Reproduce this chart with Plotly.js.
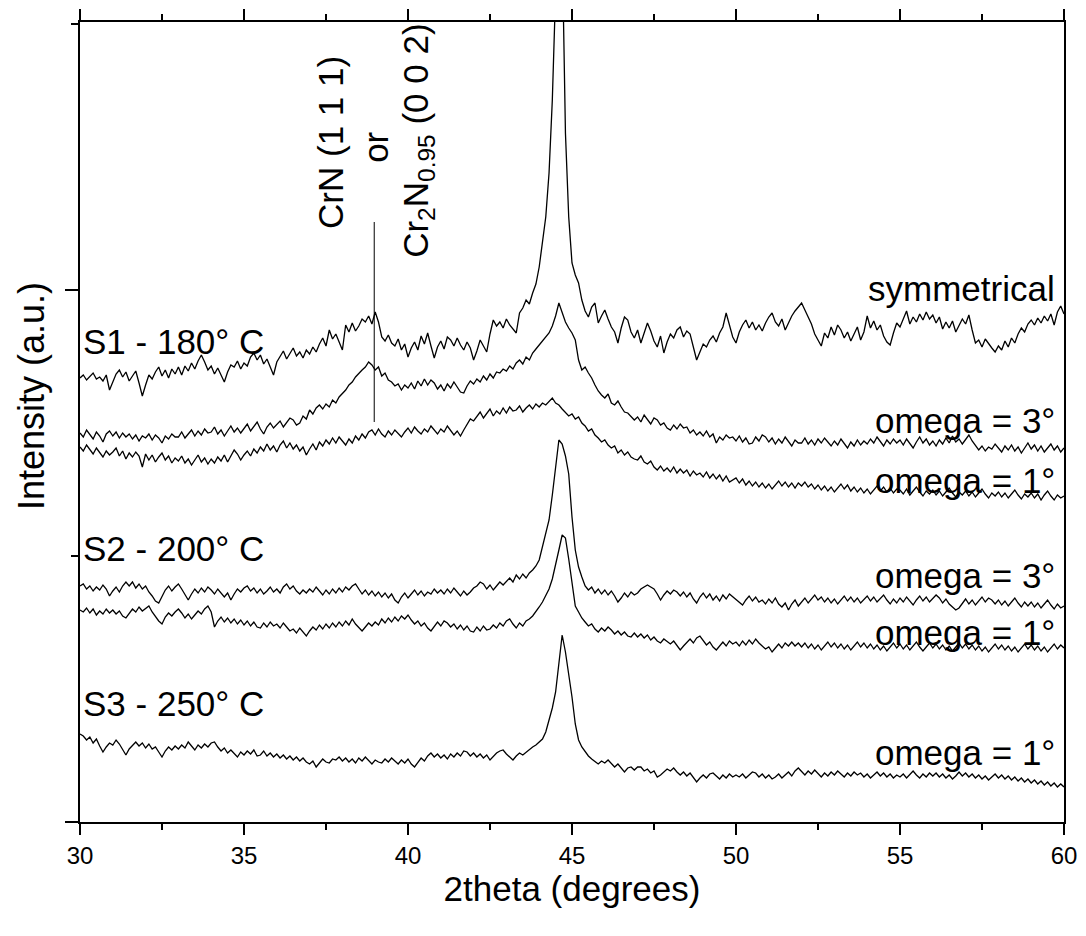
<!DOCTYPE html>
<html>
<head>
<meta charset="utf-8">
<script src="https://cdn.plot.ly/plotly-3.0.1.min.js"></script>
<style>
  html, body { margin: 0; padding: 0; background: #ffffff; }
  #chart { width: 1086px; height: 936px; }
</style>
</head>
<body>
<div id="chart"></div>
<script>
// 2theta grid: 30.0 ... 60.0 deg, 0.1 deg step (301 points)
const twoTheta = Array.from({length: 301}, (_, i) => +(30 + i * 0.1).toFixed(1));

// Offset-stacked intensities (a.u.)
const s1Symmetrical = [
444,447,442,446,449,443,445,441,447,432,
440,448,452,445,450,441,446,451,439,426,
437,447,443,450,455,446,452,444,453,448,
455,447,456,451,459,453,461,467,460,452,
456,448,454,447,440,450,457,455,461,453,
459,456,465,469,462,467,458,463,455,447,
460,466,471,463,469,474,466,470,464,472,
468,475,470,478,484,476,492,483,488,479,
472,497,490,499,491,496,503,500,506,498,
510,500,485,481,487,479,476,483,472,478,
465,474,480,472,486,478,489,476,464,475,
481,473,485,482,476,484,477,472,480,474,
462,471,482,476,470,488,502,496,500,494,
503,497,493,489,509,514,522,518,529,538,
555,579,605,649,722,830,1000,880,689,605,
559,547,539,522,511,505,515,519,499,506,
512,503,495,490,479,494,505,502,490,484,
492,479,488,499,491,481,475,486,469,480,
488,484,492,495,485,491,488,474,462,470,
478,475,482,486,480,489,495,509,498,485,
479,490,497,502,494,500,492,497,491,499,
505,509,500,496,503,492,499,506,511,515,
519,512,505,498,488,482,476,489,484,495,
487,497,492,484,490,481,488,495,482,490,
506,494,501,492,497,486,480,477,489,499,
495,504,511,498,505,500,508,502,510,503,
507,499,505,493,500,494,501,490,497,503,
498,507,492,479,482,475,483,478,474,470,
476,472,481,475,484,479,488,494,490,498,
502,497,504,499,506,501,508,497,510,516,508
];

const s1Omega3 = [
389,385,392,387,383,390,386,380,388,391,
386,390,384,389,385,388,383,387,381,386,
384,388,382,387,384,379,386,383,388,385,
385,390,384,388,392,386,391,387,393,389,
390,395,388,392,386,391,396,390,394,389,
394,398,391,396,400,393,388,395,399,394,
397,401,395,399,404,402,397,399,406,403,
412,408,414,417,413,418,415,422,419,425,
428,432,437,440,445,449,452,455,460,457,
452,455,446,449,442,440,436,438,432,437,
434,439,433,441,436,443,437,442,439,433,
437,431,438,434,440,435,430,429,436,441,
438,443,440,446,442,448,444,450,449,453,
451,456,453,459,462,458,465,462,469,473,
477,481,485,489,496,506,519,510,500,494,
489,482,462,452,455,449,444,437,431,427,
424,428,419,417,421,415,410,409,406,402,
405,400,407,403,398,404,402,397,399,394,
392,397,393,398,394,395,389,392,387,390,
386,391,385,388,379,385,382,387,384,385,
381,386,380,384,378,379,385,381,387,385,
380,384,378,383,379,385,381,376,382,379,
379,384,378,382,377,383,379,384,380,376,
381,377,383,379,374,380,376,382,377,381,
378,383,379,385,380,376,382,378,383,379,
382,377,383,378,374,380,385,379,383,377,
381,376,382,378,384,379,386,380,383,378,
382,387,381,377,372,376,371,375,373,378,
374,370,376,372,377,371,375,369,374,379,
373,377,371,376,370,374,378,372,376,370,374
];

const s1Omega1 = [
375,371,377,372,368,374,370,365,371,367,
370,374,366,371,363,369,365,370,366,355,
368,362,367,360,365,369,362,366,359,364,
361,366,359,363,357,362,367,360,364,358,
363,359,365,361,367,360,366,372,368,362,
367,371,366,373,369,375,371,378,372,376,
370,377,381,374,379,373,377,371,375,367,
373,378,372,380,376,382,378,384,379,385,
381,377,383,379,386,382,388,384,390,392,
387,393,388,385,391,387,392,389,385,390,
394,389,395,391,388,393,390,396,392,388,
393,390,396,392,387,391,386,392,398,403,
401,406,410,404,409,413,406,411,408,414,
409,415,411,412,416,410,414,417,413,418,
415,419,417,421,424,419,417,413,410,406,
408,403,405,399,396,391,393,387,384,380,
382,377,374,376,369,372,367,370,365,363,
362,366,360,358,361,355,352,356,351,354,
350,355,349,353,349,352,346,351,347,349,
345,350,344,348,343,347,341,346,340,342,
344,339,343,337,341,336,340,335,339,334,
338,333,337,341,336,340,335,339,334,339,
336,340,335,338,333,337,332,336,331,335,
330,334,338,333,337,331,335,330,334,329,
333,328,332,336,331,335,330,334,329,333,
332,328,333,327,331,335,330,326,331,328,
332,327,331,326,330,334,329,325,330,327,
331,326,330,325,329,333,328,324,329,326,
330,325,329,324,328,332,327,323,328,325,
329,324,328,322,327,331,326,322,327,324,326
];

const s2Omega3 = [
236,238,233,236,231,235,232,237,233,226,
231,235,230,236,240,236,240,234,238,233,
236,230,226,221,219,226,232,236,231,235,
238,233,228,222,228,233,229,234,230,235,
232,228,233,229,225,229,222,228,233,230,
234,236,231,234,229,233,228,231,235,230,
233,229,235,238,233,236,231,228,232,229,
233,230,235,231,227,232,228,233,229,234,
230,235,232,236,238,233,228,232,227,231,
226,230,225,229,224,228,222,219,225,229,
224,228,232,227,231,226,230,228,233,229,
232,228,233,229,234,230,226,231,227,230,
234,236,240,238,233,237,232,236,240,237,
241,244,240,247,243,248,244,249,252,256,
262,275,287,302,327,358,382,378,366,348,
305,272,255,245,236,232,235,229,233,228,
232,227,231,226,220,224,229,225,230,227,
229,233,235,237,235,233,228,222,227,231,
228,232,230,226,230,225,229,223,219,225,
229,224,228,222,226,221,227,223,228,225,
222,220,217,222,226,221,225,220,222,218,
223,219,224,218,215,219,212,218,222,216,
220,224,219,223,227,222,225,220,224,219,
223,218,222,226,221,225,220,224,219,223,
226,221,225,220,224,227,222,218,223,219,
224,220,225,221,217,222,226,221,225,220,
223,227,224,219,223,218,215,212,214,219,
223,218,222,217,221,225,220,224,222,218,
222,217,221,216,220,224,219,215,220,216,
220,215,219,214,218,222,217,213,218,214,216
];

const s2Omega1 = [
212,210,214,209,213,207,211,208,213,209,
212,208,211,206,204,209,213,210,215,211,
214,216,210,205,201,198,205,209,206,210,
213,209,204,208,203,207,211,208,213,216,
210,195,201,205,200,204,199,203,198,202,
197,201,196,200,195,194,199,195,200,196,
198,194,199,195,191,193,189,194,190,186,
191,195,192,197,193,198,194,199,195,200,
196,201,197,203,198,194,191,195,199,196,
200,197,203,199,204,200,205,201,206,203,
207,202,198,201,196,199,194,191,196,200,
196,201,199,195,198,193,197,192,196,191,
190,195,191,196,192,193,197,194,199,196,
201,203,198,194,199,196,201,203,206,210,
215,220,226,233,243,256,272,287,284,263,
238,216,210,204,200,196,198,193,190,194,
191,195,192,188,191,187,190,186,185,189,
185,188,184,187,182,185,181,179,183,180,
178,181,176,172,176,180,183,179,184,186,
181,177,180,175,172,176,180,176,181,178,
180,176,181,177,182,178,183,179,176,173,
175,170,174,178,174,179,176,180,176,179,
175,179,174,178,173,177,172,176,180,175,
179,174,178,173,177,172,176,180,175,179,
174,178,173,177,172,176,171,175,179,174,
178,173,177,172,176,180,175,171,175,179,
174,178,173,177,172,176,171,175,179,174,
178,173,177,172,176,171,175,170,174,178,
173,177,172,176,171,175,170,174,178,173,
177,172,176,171,175,170,174,178,173,177,174
];

const s3Omega1 = [
88,86,82,85,79,83,76,70,75,79,
77,82,78,72,67,73,77,80,76,79,
74,78,73,75,70,65,71,75,72,76,
73,77,74,80,76,72,77,74,78,75,
79,80,75,71,74,69,72,68,65,70,
67,71,68,72,66,67,71,66,69,65,
68,64,67,63,66,62,65,61,64,60,
58,61,55,59,63,60,59,63,62,65,
61,64,60,63,59,64,61,65,62,58,
62,60,59,63,60,64,61,58,62,59,
63,58,55,60,64,61,66,69,65,68,
64,67,63,68,65,69,66,71,70,66,
69,65,68,64,67,62,66,69,71,72,
68,65,62,66,69,67,70,72,75,77,
80,83,90,102,114,130,160,187,170,148,
125,98,82,75,70,66,63,60,58,61,
59,62,58,55,58,54,50,54,55,52,
55,55,51,53,49,51,45,47,50,53,
51,54,50,47,50,46,49,44,40,44,
47,44,48,49,46,43,47,44,48,45,
47,45,48,44,47,50,49,45,48,44,
47,43,45,48,44,47,50,46,51,54,
50,47,51,48,52,48,45,49,46,50,
47,51,48,45,49,46,50,47,49,45,
48,44,47,50,46,49,45,48,44,47,
45,48,44,47,51,47,44,48,45,49,
46,49,45,48,44,47,43,46,50,46,
49,45,48,44,47,43,46,42,45,48,
44,47,43,46,42,45,41,44,40,43,
39,42,38,41,37,40,36,39,35,38,35
];

const seriesData = [s1Symmetrical, s1Omega3, s1Omega1, s2Omega3, s2Omega1, s3Omega1];
const seriesNames = ['S1 symmetrical', 'S1 omega = 3°', 'S1 omega = 1°', 'S2 omega = 3°', 'S2 omega = 1°', 'S3 omega = 1°'];

// Text labels and their anchor values
const curveLabels = ['symmetrical', 'omega = 3°', 'omega = 1°', 'omega = 3°', 'omega = 1°', 'omega = 1°'];
const curveLabelY = [534, 402, 342, 247, 190, 70];
const curveLabelX = 59.8;
const sampleLabels = ['S1 - 180° C', 'S2 - 200° C', 'S3 - 250° C'];
const sampleLabelY = [481, 274, 119];
const sampleLabelX = 30.03;
const crnPeak = 38.97;
const crnMarkerSpan = [400, 600];

const FONT = 'Liberation Sans, Arial, Helvetica, sans-serif';
const LABEL_SIZE = 35;

const traces = seriesData.map((ys, i) => ({
  x: twoTheta, y: ys, type: 'scatter', mode: 'lines', name: seriesNames[i],
  line: {color: '#000000', width: 1.3}, hoverinfo: 'skip', cliponaxis: true
}));

const annotations = [];
curveLabels.forEach((t, i) => annotations.push({
  x: curveLabelX, y: curveLabelY[i], xref: 'x', yref: 'y', text: t,
  showarrow: false, xanchor: 'right', yanchor: 'middle',
  font: {family: FONT, size: LABEL_SIZE, color: '#000'}
}));
sampleLabels.forEach((t, i) => annotations.push({
  x: sampleLabelX, y: sampleLabelY[i], xref: 'x', yref: 'y', text: t,
  showarrow: false, xanchor: 'left', yanchor: 'middle',
  font: {family: FONT, size: LABEL_SIZE, color: '#000'}
}));
annotations.push({x: 37.62, y: 680, xref: 'x', yref: 'y', text: 'CrN (1 1 1)', textangle: -90,
  showarrow: false, xanchor: 'center', yanchor: 'middle', font: {family: FONT, size: LABEL_SIZE, color: '#000'}});
annotations.push({x: 38.99, y: 675, xref: 'x', yref: 'y', text: 'or', textangle: -90,
  showarrow: false, xanchor: 'center', yanchor: 'middle', font: {family: FONT, size: LABEL_SIZE, color: '#000'}});
annotations.push({x: 40.3, y: 681, xref: 'x', yref: 'y', text: 'Cr<sub>2</sub>N<sub>0.95</sub> (0 0 2)', textangle: -90,
  showarrow: false, xanchor: 'center', yanchor: 'middle', font: {family: FONT, size: LABEL_SIZE, color: '#000'}});
// y-axis title, placed where the reference shows it (left of the plot area)
annotations.push({x: -0.0498, y: 0.5325, xref: 'paper', yref: 'paper', text: 'Intensity (a.u.)', textangle: -90,
  showarrow: false, xanchor: 'center', yanchor: 'middle', font: {family: FONT, size: 36, color: '#000'}});

const layout = {
  width: 1086, height: 936,
  margin: {l: 80, r: 22, t: 22, b: 114},
  paper_bgcolor: '#ffffff', plot_bgcolor: '#ffffff',
  showlegend: false,
  font: {family: FONT, color: '#000'},
  xaxis: {
    range: [30, 60], showgrid: false, zeroline: false,
    showline: true, linecolor: '#000', linewidth: 2, mirror: 'ticks',
    ticks: 'outside', ticklen: 11, tickwidth: 2, tickcolor: '#000',
    tick0: 30, dtick: 5,
    minor: {ticks: 'outside', ticklen: 6, tickwidth: 2, tickcolor: '#000', dtick: 2.5, showgrid: false},
    tickfont: {family: FONT, size: 24, color: '#000'},
    title: {text: '2theta (degrees)', font: {family: FONT, size: 35, color: '#000'}, standoff: 1}
  },
  yaxis: {
    range: [0, 800], showgrid: false, zeroline: false,
    showline: true, linecolor: '#000', linewidth: 2, mirror: true,
    ticks: 'outside', ticklen: 13, tickwidth: 2, tickcolor: '#000',
    tick0: 0, dtick: 532, showticklabels: false,
    minor: {ticks: 'outside', ticklen: 7, tickwidth: 2, tickcolor: '#000', dtick: 266, showgrid: false}
  },
  shapes: [{
    type: 'line', xref: 'x', yref: 'y', x0: crnPeak, x1: crnPeak, y0: crnMarkerSpan[0], y1: crnMarkerSpan[1],
    line: {color: '#000', width: 1}
  }],
  annotations: annotations
};

Plotly.newPlot('chart', traces, layout, {displayModeBar: false, staticPlot: true});
</script>
</body>
</html>
